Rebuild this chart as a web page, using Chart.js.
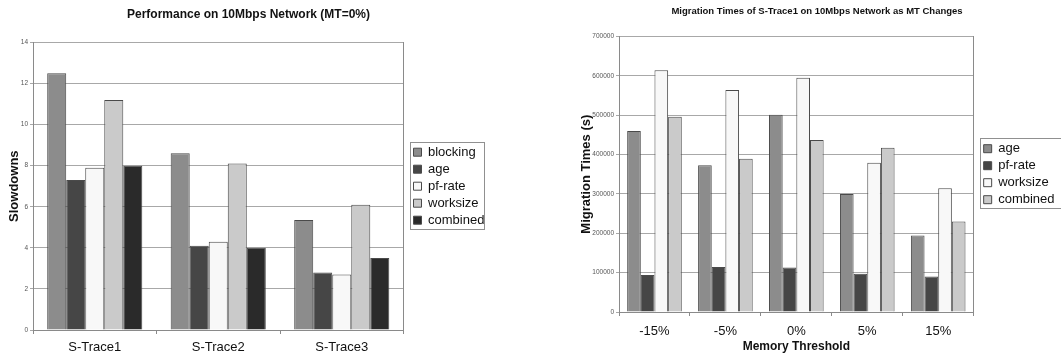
<!DOCTYPE html>
<html>
<head>
<meta charset="utf-8">
<script src="https://cdn.jsdelivr.net/npm/chart.js@4/dist/chart.umd.min.js"></script>
<style>
  body { margin: 0; background: #fff; }
  #wrap1 { position: absolute; left: 0; top: 0; width: 530px; height: 356px; }
  #wrap2 { position: absolute; left: 530px; top: 0; width: 531px; height: 356px; }
</style>
</head>
<body>
<div id="wrap1"><canvas id="graph1" width="530" height="356"></canvas></div>
<div id="wrap2"><canvas id="graph2" width="531" height="356"></canvas></div>
<script>
//------------------------------------------ DATA ---------------------------------------//

//-------Chart 1 : slowdowns at MT=0%-----//
var traces = ["S-Trace1", "S-Trace2", "S-Trace3"];
var slow_blocking = [12.5, 8.6, 5.35];
var slow_age = [7.3, 4.1, 2.8];
var slow_pfrate = [7.9, 4.3, 2.7];
var slow_worksize = [11.2, 8.1, 6.1];
var slow_combined = [8.0, 4.0, 3.5];

//-------Chart 2 : migration times as MT changes-----//
var thresholds = ["-15%", "-5%", "0%", "5%", "15%"];
var mig_age = [460000, 373000, 501000, 300000, 194000];
var mig_pfrate = [94000, 114000, 113000, 97000, 90000];
var mig_worksize = [614000, 564000, 595000, 379000, 314000];
var mig_combined = [496000, 389000, 437000, 417000, 230000];

//------------------------------------------ STYLE ---------------------------------------//

var MID = "#8c8c8c";
var DARK = "#464646";
var WHITE = "#f8f8f8";
var LIGHT = "#cacaca";
var DARKEST = "#2a2a2a";
var EDGE = "#4a4a4a";
var GRID = "#a8a8a8";
var AXIS = "#8a8a8a";
var FONT = "'Liberation Sans', Arial, sans-serif";

Chart.defaults.font.family = FONT;
Chart.defaults.color = "#222";

// box drawn round the legend items //
var legendFrame = {
  id: "legendFrame",
  afterDraw: function (chart, args, opts) {
    var boxes = chart.legend && chart.legend.legendHitBoxes;
    if (!boxes || !boxes.length) return;
    var left = boxes[0].left - 4;
    var top = boxes[0].top - 4;
    var right = 0;
    for (var i = 0; i < boxes.length; i++) {
      right = Math.max(right, boxes[i].left + boxes[i].width);
    }
    right += opts.extra || 0;
    var last = boxes[boxes.length - 1];
    var bottom = last.top + last.height + 2;
    var ctx = chart.ctx;
    ctx.save();
    ctx.strokeStyle = "#909090";
    ctx.lineWidth = 1;
    ctx.strokeRect(Math.round(left) + 0.5, Math.round(top) + 0.5, Math.round(right - left), Math.round(bottom - top));
    ctx.restore();
  }
};

function dataset(label, data, color) {
  return {
    label: label,
    data: data,
    backgroundColor: color,
    borderColor: EDGE,
    borderWidth: 1,
    categoryPercentage: 0.77,
    barPercentage: 1.0
  };
}

function makeOptions(cfg) {
  return {
    responsive: false,
    animation: false,
    layout: { padding: cfg.padding },
    plugins: {
      tooltip: { enabled: false },
      legendFrame: { extra: cfg.frameExtra },
      title: {
        display: true,
        text: cfg.title,
        color: "#111",
        font: { size: cfg.titleSize, weight: "bold" },
        padding: cfg.titlePadding
      },
      legend: {
        position: "right",
        fullSize: false,
        labels: {
          boxWidth: 8,
          boxHeight: 8,
          padding: 4,
          color: "#111",
          font: { size: 13 }
        }
      }
    },
    scales: {
      x: {
        grid: {
          display: true,
          drawOnChartArea: false,
          offset: true,
          tickLength: 4,
          color: AXIS
        },
        border: { color: AXIS },
        ticks: { padding: cfg.xTickPad, color: "#111", font: { size: 13 } },
        title: cfg.xTitle,
        afterFit: function (scale) { scale.height = cfg.xHeight; }
      },
      y: {
        min: 0,
        max: cfg.max,
        ticks: {
          stepSize: cfg.step,
          padding: 2,
          color: "#555",
          font: { size: 6.5 },
          callback: function (v) { return String(v); }
        },
        grid: { color: GRID, tickLength: 3 },
        border: { color: AXIS },
        title: {
          display: true,
          text: cfg.yTitle,
          color: "#111",
          font: { size: 13, weight: "bold" },
          padding: cfg.yTitlePadding
        },
        afterFit: function (scale) { scale.width = cfg.yWidth; }
      },
      frame: {
        position: "right",
        display: true,
        grid: { drawOnChartArea: false, drawTicks: false },
        ticks: { display: false },
        border: { display: true, color: AXIS },
        afterFit: function (scale) { scale.width = 6; }
      }
    }
  };
}

// ------------------------ graph1 ------------------------------

var ctx1 = document.getElementById("graph1");
var myChart1 = new Chart(ctx1, {
  type: "bar",
  data: {
    labels: traces,
    datasets: [
      dataset("blocking", slow_blocking, MID),
      dataset("age", slow_age, DARK),
      dataset("pf-rate", slow_pfrate, WHITE),
      dataset("worksize", slow_worksize, LIGHT),
      dataset("combined", slow_combined, DARKEST)
    ]
  },
  options: makeOptions({
    title: "Performance on 10Mbps Network (MT=0%)",
    titleSize: 12,
    titlePadding: { top: 7, bottom: 21 },
    padding: { left: 7, right: 40, top: 0, bottom: 0 },
    max: 14,
    step: 2,
    yTitle: "Slowdowns",
    yTitlePadding: { top: 0, bottom: 0 },
    yWidth: 26,
    xTickPad: 6,
    xHeight: 26,
    frameExtra: -1,
    xTitle: { display: false }
  }),
  plugins: [legendFrame]
});

// ------------------------ graph2 ------------------------------

var ctx2 = document.getElementById("graph2");
var myChart2 = new Chart(ctx2, {
  type: "bar",
  data: {
    labels: thresholds,
    datasets: [
      dataset("age", mig_age, MID),
      dataset("pf-rate", mig_pfrate, DARK),
      dataset("worksize", mig_worksize, WHITE),
      dataset("combined", mig_combined, LIGHT)
    ]
  },
  options: makeOptions({
    title: "Migration Times of S-Trace1 on 10Mbps Network as MT Changes",
    titleSize: 9.5,
    titlePadding: { top: 6, bottom: 19 },
    padding: { left: 43, right: 0, top: 0, bottom: 0 },
    max: 700000,
    step: 100000,
    yTitle: "Migration Times (s)",
    yTitlePadding: { top: 6, bottom: 0 },
    yWidth: 46,
    xTickPad: 8,
    xHeight: 44,
    frameExtra: 12,
    xTitle: {
      display: true,
      text: "Memory Threshold",
      color: "#111",
      font: { size: 12, weight: "bold" },
      padding: { top: 1, bottom: 2 }
    }
  }),
  plugins: [legendFrame]
});
</script>
</body>
</html>
